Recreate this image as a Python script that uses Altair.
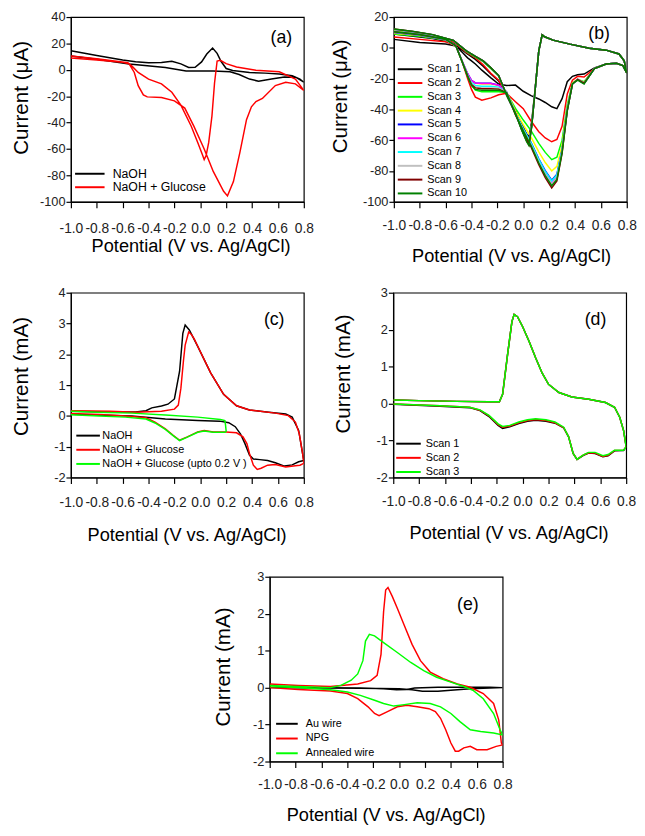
import altair as alt
import pandas as pd

FONT = "Liberation Sans"
X_TICKS = [-1.0, -0.8, -0.6, -0.4, -0.2, 0.0, 0.2, 0.4, 0.6, 0.8]

# ---------------- Panel (a) : current in uA ----------------
a_naoh_v = [-1.0, -0.8, -0.6, -0.5, -0.4, -0.3, -0.22, -0.15, -0.09, -0.04, 0.01, 0.05, 0.095, 0.13, 0.16, 0.2, 0.25, 0.38, 0.5, 0.61,
            0.71, 0.77, 0.8, 0.74, 0.65, 0.55, 0.45, 0.38, 0.3, 0.23, 0.1, -0.11, -0.27, -0.55, -0.8, -1.0]
a_naoh_i = [14.5, 10.8, 7.5, 6.2, 5.4, 5.6, 6.5, 4.5, 1.8, 2.0, 6.0, 12.0, 16.5, 12.5, 6.5, 1.0, -0.5, -2.0, -2.5, -3.2,
            -4.4, -7.0, -9.4, -5.7, -5.5, -7.0, -8.6, -7.0, -3.5, -1.5, -0.8, -0.8, 1.7, 4.5, 8.0, 10.5]
a_glu_v = [-1.0, -0.8, -0.6, -0.55, -0.51, -0.48, -0.44, -0.41, -0.3, -0.2, -0.12, -0.05, 0.03, 0.1, 0.18, 0.21, 0.256, 0.306, 0.357, 0.395,
           0.43, 0.48, 0.58, 0.66, 0.735, 0.8, 0.735, 0.61, 0.43, 0.28, 0.2, 0.155, 0.13, 0.11, 0.09, 0.065, 0.045, 0.03, 0.015, -0.02,
           -0.07, -0.15, -0.22, -0.3, -0.4, -0.48, -0.53, -0.56, -0.8, -1.0]
a_glu_i = [9.0, 7.5, 5.8, 4.5, -2.0, -12.0, -19.0, -20.5, -21.0, -23.5, -29.0, -42.7, -60.0, -77.0, -92.0, -95.5, -84.7, -62.5, -37.8, -28.0,
           -24.0, -21.7, -11.9, -9.4, -10.6, -15.6, -7.0, -1.5, -0.3, 2.2, 4.7, 7.2, 6.7, -10.0, -35.0, -55.0, -65.0, -68.0, -64.0, -55.0,
           -42.7, -26.7, -17.0, -10.6, -7.0, -2.0, 3.0, 5.4, 8.5, 10.5]

# ---------------- Panel (b) : 10 scans, uA ----------------
b_v_fwd = [-1.0, -0.8, -0.6, -0.52, -0.47, -0.43, -0.40, -0.37, -0.32, -0.25, -0.19, -0.13, -0.06, 0.0, 0.06, 0.12, 0.17, 0.22, 0.26, 0.30,
           0.34, 0.38, 0.42, 0.47, 0.55, 0.64, 0.72, 0.77, 0.80]
b_v_rev = [0.78, 0.74, 0.64, 0.51, 0.36, 0.23, 0.165, 0.146, 0.12, 0.09, 0.065, 0.044, 0.026, -0.012, -0.063, -0.127, -0.19, -0.25, -0.31, -0.37,
           -0.44, -0.54, -0.70, -0.85, -1.0]
b_scan1_fwd = [5.5, 3.5, 2.5, 1.2, -3.0, -6.5, -8.5, -10.5, -14.5, -19.5, -23.5, -24.5, -24.2, -28.2, -31.0, -33.2, -35.5, -38.3, -39.5, -33.0,
               -22.0, -18.5, -17.5, -17.0, -13.0, -10.5, -10.0, -11.5, -15.5]
b_scan1_rev = [-8.5, -4.0, -1.5, -0.2, 2.4, 5.0, 7.2, 8.4, -2.0, -28.0, -48.0, -58.0, -56.0, -49.5, -40.0, -30.5, -21.5, -17.0, -12.0, -7.5,
               -3.5, 3.0, 6.0, 7.5, 9.0]
b_scan2_fwd = [7.0, 5.5, 4.0, 1.2, -9.5, -20.0, -27.0, -32.0, -34.0, -32.5, -30.5, -29.5, -35.0, -39.5, -47.5, -54.5, -58.5, -61.0, -59.5, -51.0,
               -30.0, -21.0, -18.5, -19.0, -13.5, -10.5, -10.0, -11.5, -16.0]
b_scan2_rev = [-8.5, -4.0, -1.5, -0.2, 2.4, 5.0, 7.2, 8.4, -2.0, -28.5, -49.5, -60.0, -57.5, -51.0, -41.0, -30.8, -21.0, -16.5, -11.0, -6.5,
               -3.0, 4.0, 7.0, 8.5, 10.0]
b_scan3_fwd = [9.0, 7.5, 5.0, 1.2, -9.5, -18.5, -24.0, -27.5, -28.5, -28.5, -28.5, -29.0, -39.3, -46.9, -53.8, -62.0, -67.9, -72.6, -71.0, -60.0,
               -37.0, -23.0, -20.5, -22.0, -13.5, -10.5, -10.0, -11.5, -16.5]
b_scan3_rev = [-8.5, -4.0, -1.5, -0.2, 2.4, 5.0, 7.2, 8.4, -2.0, -28.8, -50.0, -61.0, -58.5, -52.3, -41.6, -30.9, -18.5, -13.5, -9.0, -6.0,
               -2.5, 4.6, 8.0, 10.0, 11.5]
b_scan4_fwd = [9.5, 8.0, 5.2, 1.2, -9.0, -17.0, -21.5, -23.0, -23.5, -23.5, -24.5, -28.5, -41.1, -49.9, -58.0, -67.6, -74.5, -80.0, -77.0, -63.0,
               -39.0, -23.0, -20.5, -22.5, -13.5, -10.5, -10.0, -11.5, -16.5]
b_scan4_rev = [-8.5, -4.0, -1.5, -0.2, 2.4, 5.0, 7.2, 8.4, -2.0, -29.0, -50.5, -62.0, -59.5, -52.8, -41.8, -31.0, -18.0, -13.0, -8.5, -5.5,
               -2.0, 4.8, 8.3, 10.3, 11.8]
b_scan5_fwd = [10.0, 8.2, 5.3, 1.2, -9.0, -16.8, -21.2, -22.8, -23.0, -23.0, -24.2, -28.5, -42.5, -52.4, -61.4, -72.1, -79.8, -86.0, -82.0, -66.0,
               -40.0, -23.5, -20.5, -23.0, -13.5, -10.5, -10.0, -11.5, -16.5]
b_scan5_rev = [-8.5, -4.0, -1.5, -0.2, 2.4, 5.0, 7.2, 8.4, -2.0, -29.0, -50.5, -62.5, -60.0, -53.0, -42.0, -31.0, -18.0, -13.0, -8.5, -5.5,
               -2.0, 4.8, 8.4, 10.4, 12.0]
b_scan6_fwd = [10.2, 8.3, 5.4, 1.2, -9.0, -16.8, -21.2, -22.8, -23.2, -23.2, -24.3, -28.6, -42.9, -53.2, -62.6, -73.7, -81.6, -88.0, -84.0, -67.0,
               -40.5, -23.5, -20.5, -23.0, -13.5, -10.5, -10.0, -11.5, -16.5]
b_scan6_rev = [-8.5, -4.0, -1.5, -0.2, 2.4, 5.0, 7.2, 8.4, -2.0, -29.0, -50.0, -61.5, -59.0, -52.5, -41.8, -31.0, -18.0, -13.0, -8.5, -5.5,
               -2.0, 4.8, 8.4, 10.5, 12.0]
b_scan7_fwd = [10.3, 8.4, 5.4, 1.2, -9.3, -17.5, -22.5, -24.5, -25.0, -25.0, -25.5, -28.7, -42.6, -52.6, -61.7, -72.5, -80.3, -86.5, -82.5, -66.5,
               -40.0, -23.5, -20.5, -23.0, -13.5, -10.5, -10.0, -11.5, -16.5]
b_scan7_rev = [-8.5, -4.0, -1.5, -0.2, 2.4, 5.0, 7.2, 8.4, -2.0, -29.0, -50.5, -62.0, -59.5, -52.8, -41.8, -31.0, -18.0, -13.0, -8.5, -5.5,
               -2.0, 4.8, 8.5, 10.5, 12.0]
b_scan8_fwd = [10.4, 8.5, 5.5, 1.2, -9.5, -18.0, -23.5, -25.5, -26.0, -26.0, -26.3, -28.8, -43.1, -53.4, -62.8, -74.0, -82.1, -88.5, -84.5, -67.5,
               -40.5, -23.5, -20.5, -23.0, -13.5, -10.5, -10.0, -11.5, -16.5]
b_scan8_rev = [-8.5, -4.0, -1.5, -0.2, 2.4, 5.0, 7.2, 8.4, -2.0, -29.0, -51.0, -63.0, -60.5, -53.0, -42.0, -31.0, -18.0, -13.0, -8.5, -5.5,
               -2.0, 4.8, 8.5, 10.6, 12.1]
b_scan9_fwd = [10.5, 8.5, 5.5, 1.2, -9.5, -18.2, -23.8, -26.0, -26.5, -26.5, -26.8, -29.0, -43.6, -54.5, -64.3, -75.9, -84.3, -91.0, -86.5, -68.5,
               -41.0, -23.5, -20.5, -23.0, -13.5, -10.5, -10.0, -11.5, -16.5]
b_scan9_rev = [-8.5, -4.0, -1.5, -0.2, 2.4, 5.0, 7.2, 8.4, -2.0, -29.0, -51.0, -63.0, -60.5, -53.2, -42.0, -31.0, -18.0, -13.0, -8.5, -5.5,
               -2.0, 4.8, 8.6, 10.6, 12.2]
b_scan10_fwd = [10.5, 8.6, 5.6, 1.2, -9.5, -18.5, -24.5, -27.0, -27.5, -27.5, -27.5, -29.0, -43.3, -53.8, -63.4, -74.8, -83.0, -89.5, -85.5, -68.0,
                -41.0, -23.5, -21.0, -23.5, -13.5, -10.5, -10.0, -11.5, -16.5]
b_scan10_rev = [-8.5, -4.0, -1.5, -0.2, 2.4, 5.0, 7.2, 8.4, -2.0, -29.0, -51.5, -63.5, -61.0, -53.5, -42.0, -31.0, -18.0, -13.0, -8.5, -5.5,
                -2.0, 4.8, 8.6, 10.7, 12.3]

# ---------------- Panel (c) : mA ----------------
c_naoh_v = [-1.0, -0.7, -0.5, -0.42, -0.375, -0.3, -0.25, -0.2, -0.16, -0.135, -0.117, -0.085, -0.02, 0.08, 0.18, 0.28, 0.38, 0.53, 0.66, 0.71,
            0.76, 0.79, 0.8, 0.76, 0.71, 0.65, 0.58, 0.52, 0.46, 0.41, 0.38, 0.345, 0.31, 0.27, 0.22, 0.15, -0.02, -0.27, -0.53, -0.8, -1.0]
c_naoh_i = [0.15, 0.13, 0.13, 0.17, 0.26, 0.32, 0.38, 0.55, 1.45, 2.68, 2.95, 2.79, 2.26, 1.4, 0.7, 0.33, 0.19, 0.12, 0.06, -0.04,
            -0.47, -1.22, -1.45, -1.49, -1.59, -1.63, -1.52, -1.45, -1.42, -1.40, -1.27, -0.9, -0.58, -0.35, -0.22, -0.17, -0.15, -0.1, 0.0, 0.03, 0.05]
c_glu_v = [-1.0, -0.7, -0.5, -0.3, -0.2, -0.17, -0.15, -0.13, -0.117, -0.09, -0.07, -0.047, -0.02, 0.08, 0.18, 0.28, 0.38, 0.58, 0.68, 0.735,
           0.765, 0.79, 0.8, 0.77, 0.735, 0.66, 0.58, 0.52, 0.47, 0.44, 0.41, 0.38, 0.36, 0.33, 0.28, 0.2, 0.1, 0.03, -0.02, -0.1,
           -0.16, -0.21, -0.27, -0.35, -0.42, -0.58, -0.78, -1.0]
c_glu_i = [0.17, 0.15, 0.12, 0.15, 0.22, 0.35, 0.9, 1.8, 2.3, 2.72, 2.65, 2.5, 2.26, 1.4, 0.7, 0.33, 0.19, 0.09, 0.01, -0.2,
           -0.58, -1.2, -1.54, -1.6, -1.62, -1.66, -1.58, -1.6, -1.7, -1.74, -1.6, -1.22, -0.9, -0.68, -0.55, -0.52, -0.52, -0.47, -0.52, -0.68,
           -0.79, -0.63, -0.42, -0.2, -0.06, 0.0, 0.05, 0.08]
c_upto_v = [-1.0, -0.8, -0.53, -0.27, -0.02, 0.155, 0.19, 0.195, 0.2, 0.19, 0.1, 0.03, -0.02, -0.1, -0.16, -0.21, -0.27, -0.35, -0.42, -0.58,
            -0.78, -1.0]
c_upto_i = [0.15, 0.12, 0.09, 0.03, -0.04, -0.12, -0.15, -0.3, -0.5, -0.53, -0.53, -0.49, -0.53, -0.69, -0.8, -0.64, -0.44, -0.23, -0.1, -0.04,
            0.0, 0.04]

# ---------------- Panel (d) : 3 scans, mA ----------------
d_v = [-1.0, -0.8, -0.51, -0.26, -0.18, -0.155, -0.117, -0.083, -0.066, -0.04, 0.0, 0.05, 0.1, 0.15, 0.2, 0.28, 0.38, 0.51, 0.64, 0.71,
       0.75, 0.78, 0.8, 0.78, 0.71, 0.66, 0.62, 0.56, 0.51, 0.47, 0.42, 0.39, 0.355, 0.317, 0.25, 0.18, 0.1, 0.037, -0.03, -0.1,
       -0.155, -0.19, -0.26, -0.33, -0.41, -0.64, -1.0]
d_scan1_i = [0.1, 0.08, 0.06, 0.05, 0.05, 0.25, 1.32, 2.22, 2.41, 2.35, 2.08, 1.68, 1.24, 0.83, 0.52, 0.3, 0.18, 0.12, 0.03, -0.1,
             -0.37, -0.73, -1.17, -1.27, -1.28, -1.41, -1.44, -1.35, -1.34, -1.4, -1.51, -1.35, -0.9, -0.66, -0.53, -0.48, -0.45, -0.48, -0.54, -0.63,
             -0.67, -0.59, -0.35, -0.19, -0.11, -0.07, -0.02]
d_scan2_i = [0.1, 0.08, 0.06, 0.05, 0.05, 0.25, 1.32, 2.22, 2.41, 2.35, 2.08, 1.68, 1.24, 0.83, 0.52, 0.3, 0.18, 0.12, 0.03, -0.1,
             -0.37, -0.73, -1.17, -1.26, -1.27, -1.4, -1.43, -1.34, -1.33, -1.39, -1.51, -1.35, -0.9, -0.65, -0.52, -0.46, -0.43, -0.46, -0.52, -0.61,
             -0.64, -0.57, -0.33, -0.18, -0.1, -0.06, -0.01]
d_scan3_i = [0.1, 0.08, 0.06, 0.05, 0.05, 0.25, 1.32, 2.22, 2.41, 2.35, 2.08, 1.68, 1.24, 0.83, 0.52, 0.3, 0.18, 0.12, 0.03, -0.1,
             -0.37, -0.73, -1.17, -1.26, -1.26, -1.38, -1.41, -1.32, -1.32, -1.39, -1.51, -1.35, -0.9, -0.64, -0.5, -0.44, -0.41, -0.44, -0.5, -0.59,
             -0.62, -0.55, -0.32, -0.17, -0.1, -0.06, -0.01]

# ---------------- Panel (e) : mA ----------------
e_au_v = [-1.0, -0.6, -0.3, -0.12, -0.02, 0.06, 0.12, 0.3, 0.5, 0.7, 0.8, 0.7, 0.55, 0.4, 0.3, 0.18, 0.1, 0.0, -0.3, -0.6, -1.0]
e_au_i = [0.0, 0.0, -0.01, -0.03, -0.06, -0.05, -0.01, 0.01, 0.01, 0.01, 0.0, -0.01, -0.03, -0.07, -0.1, -0.1, -0.06, -0.03, -0.02, -0.01, 0.0]
e_npg_v = [-1.0, -0.78, -0.53, -0.32, -0.22, -0.17, -0.14, -0.12, -0.104, -0.086, -0.053, -0.014, 0.037, 0.1, 0.165, 0.24, 0.34, 0.45, 0.55, 0.65,
           0.73, 0.77, 0.79, 0.8, 0.75, 0.68, 0.6, 0.55, 0.5, 0.46, 0.434, 0.4, 0.36, 0.32, 0.28, 0.23, 0.14, 0.06, -0.014, -0.09,
           -0.155, -0.19, -0.24, -0.32, -0.4, -0.53, -0.78, -1.0]
e_npg_i = [0.1, 0.06, 0.03, 0.1, 0.19, 0.33, 0.9, 2.06, 2.64, 2.71, 2.47, 2.15, 1.71, 1.17, 0.73, 0.42, 0.24, 0.1, 0.01, -0.16,
           -0.43, -0.88, -1.5, -1.55, -1.59, -1.68, -1.68, -1.59, -1.63, -1.72, -1.72, -1.5, -1.14, -0.83, -0.65, -0.57, -0.52, -0.48, -0.52, -0.65,
           -0.76, -0.7, -0.52, -0.3, -0.16, -0.09, -0.05, 0.0]
e_ann_v = [-1.0, -0.53, -0.45, -0.37, -0.32, -0.28, -0.26, -0.23, -0.19, -0.12, -0.014, 0.09, 0.19, 0.29, 0.4, 0.5, 0.57, 0.65, 0.73, 0.78,
           0.8, 0.73, 0.63, 0.55, 0.47, 0.4, 0.32, 0.24, 0.14, 0.04, -0.04, -0.12, -0.19, -0.3, -0.4, -0.53, -0.78, -1.0]
e_ann_i = [0.06, 0.0, 0.06, 0.2, 0.37, 0.73, 1.26, 1.44, 1.4, 1.22, 0.95, 0.68, 0.46, 0.28, 0.15, 0.03, -0.07, -0.3, -0.7, -1.14,
           -1.28, -1.23, -1.19, -1.14, -0.92, -0.7, -0.52, -0.43, -0.41, -0.46, -0.5, -0.43, -0.34, -0.21, -0.12, -0.06, 0.0, 0.03]

# panel tags (label, V, I)
tag_a = ["(a)", 0.626, 24.4]
tag_b = ["(b)", 0.586, 9.1]
tag_c = ["(c)", 0.571, 3.1]
tag_d = ["(d)", 0.563, 2.25]
tag_e = ["(e)", 0.531, 2.22]

SCAN_NAMES = ["Scan %d" % k for k in range(1, 11)]
SCAN_COLORS = ["#000000", "#FF0000", "#00FF00", "#FFFF00", "#0000FF", "#FF00FF", "#00FFFF", "#C0C0C0", "#800000", "#008000"]


def frame(series):
    rows = []
    for name, vs, cs in series:
        for k, (v, c) in enumerate(zip(vs, cs)):
            rows.append({"V": v, "I": c, "series": name, "k": k})
    return pd.DataFrame(rows)


MINUS = "replace(datum.label, '\u2212', '-')"


def panel(df, names, colors, ydom, yticks, ytitle, tag, leg, ax):
    x = alt.X("V:Q", scale=alt.Scale(domain=[-1.0, 0.8], nice=False, zero=False),
              axis=alt.Axis(values=X_TICKS, format=".1f", labelExpr=MINUS, labelOverlap=False, labelFlush=False,
                            labelFontSize=14, labelPadding=ax["xlp"], tickSize=6,
                            title="Potential (V vs. Ag/AgCl)", titleFontSize=18.5, titleBaseline="middle",
                            titleX=ax["xtx"], titleY=ax["xty"]))
    y = alt.Y("I:Q", scale=alt.Scale(domain=ydom, nice=False, zero=False),
              axis=alt.Axis(values=yticks, format="d", labelExpr=MINUS, labelOverlap=False, labelFlush=False,
                            labelFontSize=13, labelPadding=1, tickSize=5,
                            title=ytitle, titleFontSize=21, titleBaseline="middle", titleAngle=270,
                            titleX=ax["ytx"], titleY=ax["yty"]))
    color = alt.Color("series:N", scale=alt.Scale(domain=names, range=colors),
                      legend=alt.Legend(orient="none", legendX=leg["x"], legendY=leg["y"], title=None,
                                        symbolType="M-3,0H3", symbolSize=leg["s"], symbolStrokeWidth=2,
                                        labelFontSize=leg["fs"], labelOffset=leg["lo"], rowPadding=leg["rp"],
                                        padding=0, labelFont=FONT, labelColor="black", symbolOffset=0))
    lines = alt.Chart(df).mark_line(strokeWidth=1.5, clip=True).encode(
        x=x, y=y, color=color, order=alt.Order("k:Q"))
    tdf = pd.DataFrame({"V": [tag[1]], "I": [tag[2]], "t": [tag[0]]})
    text = alt.Chart(tdf).mark_text(font=FONT, fontSize=18, color="black").encode(x=x, y=y, text="t:N")
    return alt.layer(lines, text).properties(width=237, height=188)


df_a = frame([("NaOH", a_naoh_v, a_naoh_i), ("NaOH + Glucose", a_glu_v, a_glu_i)])
scan_f = [b_scan1_fwd, b_scan2_fwd, b_scan3_fwd, b_scan4_fwd, b_scan5_fwd, b_scan6_fwd, b_scan7_fwd, b_scan8_fwd, b_scan9_fwd, b_scan10_fwd]
scan_r = [b_scan1_rev, b_scan2_rev, b_scan3_rev, b_scan4_rev, b_scan5_rev, b_scan6_rev, b_scan7_rev, b_scan8_rev, b_scan9_rev, b_scan10_rev]
df_b = frame([(SCAN_NAMES[k], b_v_fwd + b_v_rev, scan_f[k] + scan_r[k]) for k in range(10)])
df_c = frame([("NaOH", c_naoh_v, c_naoh_i), ("NaOH + Glucose", c_glu_v, c_glu_i),
              ("NaOH + Glucose (upto 0.2 V )", c_upto_v, c_upto_i)])
df_d = frame([("Scan 1", d_v, d_scan1_i), ("Scan 2", d_v, d_scan2_i), ("Scan 3", d_v, d_scan3_i)])
df_e = frame([("Au wire", e_au_v, e_au_i), ("NPG", e_npg_v, e_npg_i), ("Annealed wire", e_ann_v, e_ann_i)])

pa = panel(df_a, ["NaOH", "NaOH + Glucose"], ["#000000", "#FF0000"], [-100, 40], list(range(-100, 41, 20)),
           "Current (\u03bcA)", tag_a,
           dict(x=13, y=153.2, s=100, fs=12.5, lo=17, rp=0.7),
           dict(xlp=14, xtx=121.8, xty=45, ytx=-50, yty=81.7))
pb = panel(df_b, SCAN_NAMES, SCAN_COLORS, [-100, 20], list(range(-100, 21, 20)),
           "Current (\u03bcA)", tag_b,
           dict(x=11, y=47.6, s=69.4, fs=11, lo=12, rp=2.04),
           dict(xlp=11.3, xtx=119.3, xty=54.3, ytx=-53.7, yty=80.2))
pc = panel(df_c, ["NaOH", "NaOH + Glucose", "NaOH + Glucose (upto 0.2 V )"], ["#000000", "#FF0000", "#00FF00"],
           [-2, 4], list(range(-2, 5)), "Current (mA)", tag_c,
           dict(x=12, y=139.9, s=64, fs=11, lo=9, rp=2.4),
           dict(xlp=13, xtx=117.7, xty=57.7, ytx=-50, yty=84.7))
pd_ = panel(df_d, ["Scan 1", "Scan 2", "Scan 3"], ["#000000", "#FF0000", "#00FF00"],
            [-2, 3], list(range(-2, 4)), "Current (mA)", tag_d,
            dict(x=10, y=148.1, s=69.4, fs=11, lo=12, rp=2.4),
            dict(xlp=11.3, xtx=117.3, xty=56, ytx=-50.3, yty=82.2))
pe = panel(df_e, ["Au wire", "NPG", "Annealed wire"], ["#000000", "#FF0000", "#00FF00"],
           [-2, 3], list(range(-2, 4)), "Current (mA)", tag_e,
           dict(x=12, y=144.1, s=53.8, fs=11, lo=13.7, rp=3.0),
           dict(xlp=10.7, xtx=118, xty=54.3, ytx=-46.7, yty=91.3))

spacer = alt.Chart(pd.DataFrame({"s": [0]})).mark_point(opacity=0, size=1).encode(
    x=alt.value(0.5), y=alt.value(94)
).properties(width=1, height=188, view={"stroke": "transparent"})

row1 = alt.hconcat(pa, pb, spacing=14.6).resolve_scale(color="independent")
row2 = alt.hconcat(pc, pd_, spacing=18).resolve_scale(color="independent")
row3 = alt.hconcat(spacer, pe, spacing=141.3).resolve_scale(color="independent")
top = alt.vconcat(row1, row2, spacing=20.5).resolve_scale(color="independent")
chart = alt.vconcat(top, row3, spacing=25.5).resolve_scale(color="independent").properties(
    padding={"left": 2, "top": -5, "right": 0, "bottom": 0}, background="white"
).configure_view(stroke="black", strokeWidth=1.2).configure_axis(
    grid=False, domainColor="black", domainWidth=1.2, tickColor="black", tickWidth=1.2,
    labelColor="#222222", titleColor="black", labelFont=FONT, titleFont=FONT, titleFontWeight="normal"
).configure_legend(labelFont=FONT)

chart.save("out.html", embed_options={"renderer": "svg", "actions": False})
